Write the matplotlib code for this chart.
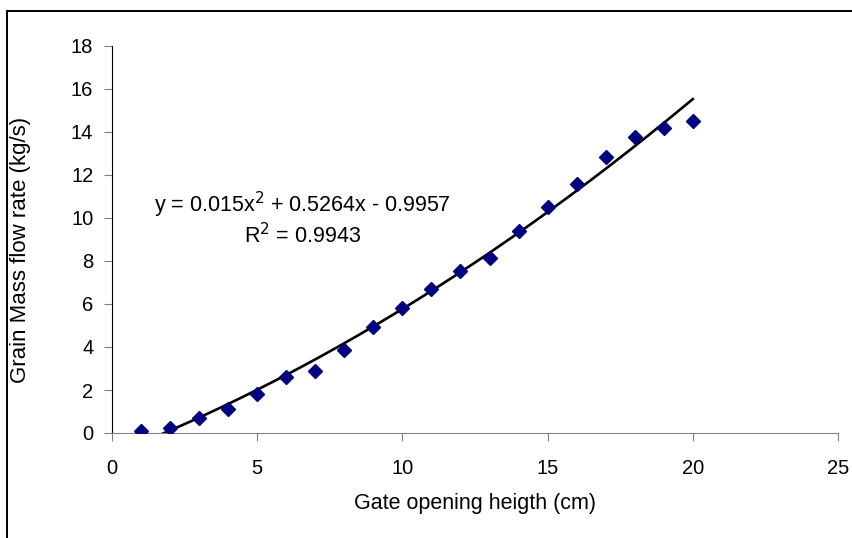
import numpy as np
import matplotlib.pyplot as plt
from matplotlib.lines import Line2D

plt.rcParams['font.family'] = ['Liberation Sans', 'DejaVu Sans']

# data
gate = [1, 2, 3, 4, 5, 6, 7, 8, 9, 10, 11, 12, 13, 14, 15, 16, 17, 18, 19, 20]
flow = [0.1, 0.25, 0.7, 1.1, 1.8, 2.6, 2.9, 3.85, 4.95, 5.8,
        6.7, 7.55, 8.15, 9.4, 10.5, 11.6, 12.85, 13.75, 14.2, 14.5]
coef = [0.015, 0.5264, -0.9957]   # trendline, as printed on the chart
r2 = 0.9943

W, H = 852, 538
fig = plt.figure(figsize=(W/100, H/100), dpi=100)
ax = fig.add_axes([112/W, 1 - 433/H, 726/W, 387/H])

# outer frame (only left and top are visible in the picture)
fig.add_artist(Line2D([7/W, 7/W], [0, 1 - 11/H], transform=fig.transFigure,
                      color='black', lw=1.4))
fig.add_artist(Line2D([7/W, 1], [1 - 11/H, 1 - 11/H], transform=fig.transFigure,
                      color='black', lw=1.4))

xt = np.linspace(gate[0], gate[-1], 200)
ax.plot(xt, np.polyval(coef, xt), color='black', lw=1.9, zorder=2)
ax.plot(gate, flow, linestyle='none', marker='D', color='#000080',
        markersize=7.5, zorder=3)

ax.set_xlim(0, 25)
ax.set_ylim(0, 18)
ax.set_xticks(range(0, 26, 5))
ax.set_yticks(range(0, 19, 2))

for s in ['top', 'right']:
    ax.spines[s].set_visible(False)
ax.spines['left'].set_color('black')
ax.spines['bottom'].set_color('#808080')
ax.tick_params(direction='out', length=5.5, color='#808080', labelsize=14.5)
ax.tick_params(axis='x', pad=13)
ax.tick_params(axis='y', pad=8)

fig.text(475/W, 1 - 503/H, 'Gate opening heigth (cm)', fontsize=15.5,
         ha='center', va='center')
fig.text(21/W, 1 - 250/H, 'Grain Mass flow rate (kg/s)', fontsize=16,
         rotation=90, ha='center', va='center')

ax.text(6.55, 10.28, 'y = %gx$^2$ + %gx - %g' % (coef[0], coef[1], -coef[2]),
        ha='center', va='baseline', fontsize=15.5)
ax.text(6.55, 8.84, 'R$^2$ = %g' % r2, ha='center', va='baseline', fontsize=15.5)

fig.savefig('out.png', dpi=100)
